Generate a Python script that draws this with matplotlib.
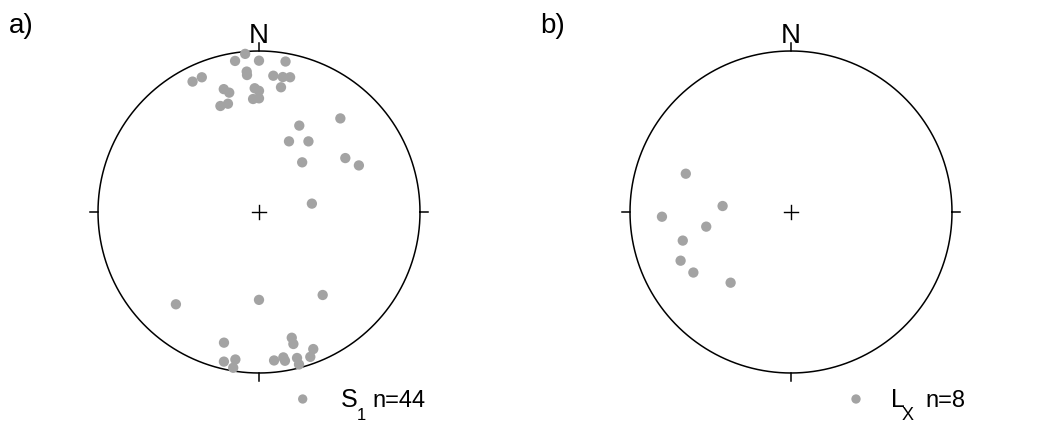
import numpy as np
import matplotlib
matplotlib.use("Agg")
from matplotlib import pyplot as plt
from matplotlib import font_manager

# font: narrow sans if present
names = set(f.name for f in font_manager.fontManager.ttflist)
FONT = 'Liberation Sans Narrow' if 'Liberation Sans Narrow' in names else 'Liberation Sans'
plt.rcParams['font.family'] = [FONT, 'DejaVu Sans']

# S1 poles (trend, plunge) in degrees
s1_trend = [355, 351, 360, 10, 333, 337, 355, 355, 6, 10, 13, 10, 344, 346,
            358, 360, 357, 360, 340, 344, 41, 25, 23, 35, 58, 41, 65, 81,
            222, 180, 142.5, 195, 165.4, 165.4, 158.4, 193.2, 189.1, 189.4,
            174.2, 170.5, 170.1, 165.4, 165.3, 160.5]
s1_plunge = [1.6, 5.6, 6.7, 5.7, 10, 10, 13.5, 15.7, 16, 16, 15.2, 22.4, 21.7, 24.6,
             24.1, 25.7, 30.4, 30.1, 30.6, 30.7, 24, 40.5, 50.6, 45.5, 36.9, 56.4, 32.1, 62.8,
             23.9, 44.6, 35.3, 17.1, 20.4, 16.4, 9.3, 5.1, 8.0, 2.2,
             8.1, 9.3, 6.9, 7.0, 2.4, 5.1]

# Lx lineations (trend, plunge)
lx_trend = [290, 275, 267.9, 260.2, 255.2, 246.2, 238.2, 220.5]
lx_plunge = [31.1, 54.9, 20.9, 45.6, 31.1, 26.0, 29.4, 41.8]

W, H = 1045, 444
R = 161.0      # net radius in px
HALF = 200.0   # half size of axes in px
GREY = '#a3a3a3'


def schmidt(trend, plunge):
    # lower hemisphere equal area
    t = np.radians(trend)
    p = np.radians(plunge)
    r = np.sqrt(2) * np.sin((np.pi / 2 - p) / 2)
    return r * np.sin(t), r * np.cos(t)


def net(fig, cx, cy):
    ax = fig.add_axes([(cx - HALF) / W, 1 - (cy + HALF) / H, 2 * HALF / W, 2 * HALF / H])
    lim = HALF / R
    ax.set_xlim(-lim, lim)
    ax.set_ylim(-lim, lim)
    ax.axis('off')
    a = np.linspace(0, 2 * np.pi, 721)
    ax.plot(np.cos(a), np.sin(a), color='black', lw=1.1)
    tk = 0.05
    ax.plot([0, 0], [1, 1 + tk], color='black', lw=1.1)
    ax.plot([0, 0], [-1, -1 - tk], color='black', lw=1.1)
    ax.plot([1, 1 + tk], [0, 0], color='black', lw=1.1)
    ax.plot([-1, -1 - tk], [0, 0], color='black', lw=1.1)
    c = 0.045
    ax.plot([-c, c], [0, 0], color='black', lw=1.0)
    ax.plot([0, 0], [-c, c], color='black', lw=1.0)
    return ax


def ftext(x, y, s, size, **kw):
    fig.text(x / W, 1 - y / H, s, fontsize=size, va='baseline', **kw)


fig = plt.figure(figsize=(W / 100, H / 100), dpi=100)

# a)
ax1 = net(fig, 259, 212)
x, y = schmidt(np.array(s1_trend), np.array(s1_plunge))
ax1.scatter(x, y, s=55, color=GREY, edgecolors='none', zorder=3)
ftext(259, 43, 'N', 20, ha='center')
ftext(9, 33, 'a)', 20)
ax1.scatter([(302.7 - 259) / R], [(212 - 399) / R], s=45, color=GREY, edgecolors='none', clip_on=False)
ftext(341, 407, 'S', 18)
ftext(357, 420, '1', 12)
ftext(372, 407, 'n=44', 17)

# b)
ax2 = net(fig, 791, 212)
x, y = schmidt(np.array(lx_trend), np.array(lx_plunge))
ax2.scatter(x, y, s=55, color=GREY, edgecolors='none', zorder=3)
ftext(791, 43, 'N', 20, ha='center')
ftext(540, 33, 'b)', 20)
ax2.scatter([(856 - 791) / R], [(212 - 399) / R], s=45, color=GREY, edgecolors='none', clip_on=False)
ftext(891, 407, 'L', 18)
ftext(902, 420, 'X', 13)
ftext(925, 407, 'n=8', 17)

fig.savefig('out.png', dpi=100)
